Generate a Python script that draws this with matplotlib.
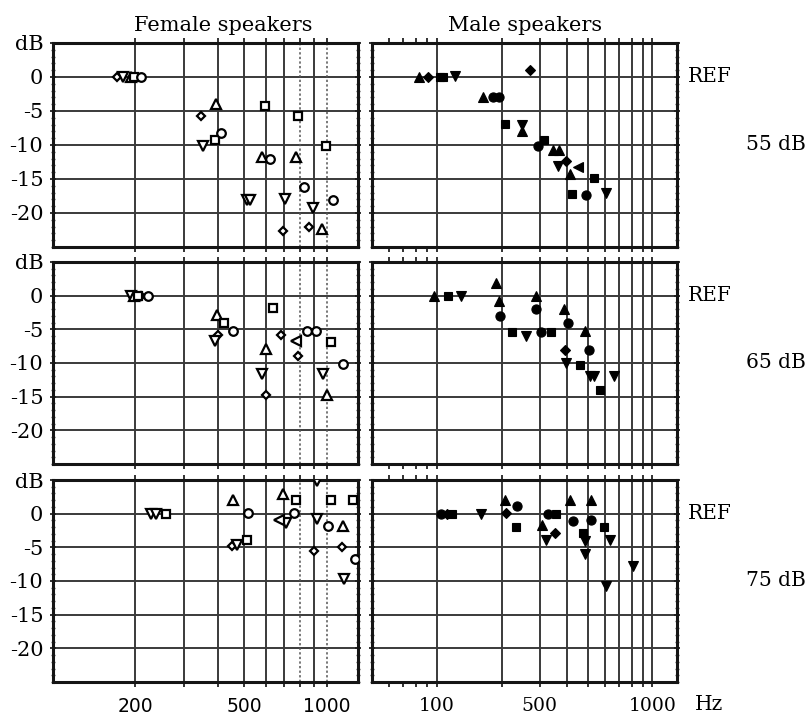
import numpy as np
import matplotlib
matplotlib.use("Agg")
import matplotlib.pyplot as plt
from matplotlib.ticker import FixedLocator, NullFormatter

# ---------------------------------------------------------------
# Relative level (dB re. REF) of spectral peaks versus frequency.
# Marker codes: '^' up triangle, 'v' down triangle, 'o' circle,
# 's' square, 'D' diamond, '<' left triangle
# ---------------------------------------------------------------

# Female speakers, 55 dB
F55_HZ = [172, 180, 192, 197, 210, 395, 346, 412, 389, 352, 594, 786, 993,
          578, 622, 775, 824, 510, 525, 706, 1050, 892, 693, 862, 962]
F55_DB = [0, 0, 0, 0, 0, -3.9, -5.7, -8.2, -9.3, -10.1, -4.2, -5.8, -10.1,
          -11.7, -12.1, -11.8, -16.2, -18.1, -18.1, -17.9, -18.1, -19.3,
          -22.6, -22.1, -22.3]
F55_MK = ['D', 'v', '^', 's', 'o', '^', 'D', 'o', 's', 'v', 's', 's', 's',
          '^', 'o', '^', 'o', 'v', 'v', 'v', 'o', 'v', 'D', 'D', '^']

# Female speakers, 65 dB
F65_HZ = [193, 197, 205, 210, 222, 398, 421, 455, 400, 390, 634, 602, 683,
          770, 847, 917, 787, 1035, 1148, 578, 598, 965, 1000]
F65_DB = [0, 0, 0, 0, 0, -2.9, -4.1, -5.3, -5.8, -6.8, -1.9, -7.9, -5.8,
          -6.8, -5.2, -5.2, -9.0, -6.9, -10.2, -11.7, -14.8, -11.7, -14.8]
F65_MK = ['v', '^', 's', 'D', 'o', '^', 's', 'o', 'D', 'v', 's', '^', 'D',
          '<', 'o', 'o', 'D', 's', 'o', 'v', 'D', 'v', '^']

# Female speakers, 75 dB
F75_HZ = [228, 238, 259, 455, 516, 452, 469, 512, 693, 770, 758, 671, 712,
          918, 922, 1010, 1143, 1035, 1246, 899, 1139, 1265, 1153]
F75_DB = [0, 0, 0, 2.1, 0.1, -4.8, -4.6, -3.9, 2.9, 2.1, 0.1, -1.0, -1.4,
          4.9, -0.8, -1.9, -1.9, 2.1, 2.1, -5.6, -4.9, -6.8, -9.7]
F75_MK = ['v', 'v', 's', '^', 'o', 'D', 'v', 's', '^', 's', 'o', '<', 'v',
          'v', 'v', 'o', '^', 's', 's', 'D', 'D', 'o', 'v']

# Male speakers, 55 dB
M55_HZ = [83, 91, 103, 107, 121, 270, 164, 182, 194, 206, 247, 247, 313,
          294, 345, 367, 364, 398, 451, 416, 538, 423, 494, 610]
M55_DB = [0, 0, 0, 0, 0.2, 1.0, -3.0, -3.0, -3.0, -6.9, -7.1, -8.0, -9.2,
          -10.2, -10.8, -10.8, -13.1, -12.3, -13.2, -14.3, -14.8, -17.2,
          -17.4, -17.0]
M55_MK = ['^', 'D', 's', 's', 'v', 'D', '^', 'o', 'o', 's', 'v', '^', 's',
          'o', '^', '^', 'v', 'D', '<', '^', 's', 's', 'o', 'v']

# Male speakers, 65 dB
M65_HZ = [97, 113, 130, 188, 194, 196, 222, 258, 287, 289, 305, 339, 387,
          407, 489, 393, 506, 398, 459, 511, 538, 569, 660]
M65_DB = [0, 0, 0, 1.9, -0.8, -3.0, -5.4, -6.0, 0, -2.0, -5.4, -5.4, -2.0,
          -4.0, -5.2, -8.0, -8.0, -10.0, -10.3, -12.0, -12.0, -14.0, -12.0]
M65_MK = ['^', 's', 'v', '^', '^', 'o', 's', 'v', '^', 'o', 'o', 's', '^',
          'o', '^', 'D', 'o', 'v', 's', 'v', 'v', 's', 'v']

# Male speakers, 75 dB
M75_HZ = [105, 112, 117, 161, 206, 235, 209, 234, 328, 358, 309, 355, 322,
          413, 520, 426, 520, 599, 475, 484, 636, 487, 809, 610]
M75_DB = [0, 0, 0, 0, 2.1, 1.1, 0.1, -2.0, 0, 0, -1.7, -2.8, -3.9, 2.1, 2.1,
          -1.1, -0.9, -2.0, -2.9, -4.1, -3.9, -6.0, -7.8, -10.8]
M75_MK = ['o', 'D', 's', 'v', '^', 'o', 'D', 's', 'o', 's', '^', 'D', 'v',
          '^', '^', 'o', 'o', 's', 's', 'v', 'v', 'v', 'v', 'v']

LEVELS = ['55 dB', '65 dB', '75 dB']
COLUMN_TITLES = ['Female speakers', 'Male speakers']

Y_TICKS = [5, 0, -5, -10, -15, -20]
Y_TICK_LABELS = ['dB', '0', '-5', '-10', '-15', '-20']

F_GRID = [200, 300, 400, 500, 600, 700, 800, 900, 1000]
F_DOTTED = [800, 1000]
F_TICK_LABELS = {200: '200', 500: '500', 1000: '1000'}

M_GRID = [100, 200, 300, 400, 500, 600, 700, 800, 900, 1000]
M_MINOR = [60, 70, 80, 90]
M_TICK_LABELS = {100: '100', 300: '500', 1000: '1000'}

# ---------------------------------------------------------------
W, H = 808, 714
fig = plt.figure(figsize=(W / 100, H / 100), dpi=100)
fig.patch.set_facecolor('white')

SERIF = 'DejaVu Serif'
SANS = 'DejaVu Sans'
GRID_C = '#3a3a3a'


def box(l, t, r, b):
    return [l / W, 1 - b / H, (r - l) / W, (b - t) / H]


cols = [(53, 358), (372, 677)]
rows = [(43, 247), (262, 464), (480, 682)]

panels = [
    [(F55_HZ, F55_DB, F55_MK), (M55_HZ, M55_DB, M55_MK)],
    [(F65_HZ, F65_DB, F65_MK), (M65_HZ, M65_DB, M65_MK)],
    [(F75_HZ, F75_DB, F75_MK), (M75_HZ, M75_DB, M75_MK)],
]

SIZES_F = {'s': 5.8, 'o': 6.2, '^': 7.0, 'v': 7.0, 'D': 4.2, '<': 6.5}
SIZES_M = {'s': 6.2, 'o': 6.6, '^': 7.5, 'v': 7.5, 'D': 4.6, '<': 7.0}

for r, (top, bot) in enumerate(rows):
    for c, (left, right) in enumerate(cols):
        ax = fig.add_axes(box(left, top, right, bot))
        ax.set_xscale('log')
        female = (c == 0)
        ax.set_xlim(100 if female else 50, 1300)
        ax.set_ylim(-25, 5)

        # grid
        for y in [0, -5, -10, -15, -20]:
            ax.axhline(y, color=GRID_C, lw=1.4, zorder=1)
        grid = F_GRID if female else M_GRID
        for x in grid:
            if female and x in F_DOTTED:
                ax.axvline(x, color='#555555', lw=1.1, ls=(0, (1.5, 1.5)), zorder=1)
            else:
                ax.axvline(x, color=GRID_C, lw=1.4, zorder=1)

        # data points
        hz, db, mk = (np.asarray(v) for v in panels[r][c])
        for m in ['D', 'v', '^', 's', 'o', '<']:
            sel = mk == m
            if not sel.any():
                continue
            if female:
                ax.plot(hz[sel], db[sel], ls='none', marker=m,
                        ms=SIZES_F[m], mfc='white', mec='black', mew=1.6,
                        zorder=3)
            else:
                ax.plot(hz[sel], db[sel], ls='none', marker=m,
                        ms=SIZES_M[m], mfc='black', mec='black', mew=0.8,
                        zorder=3)

        # frame
        for sp in ax.spines.values():
            sp.set_linewidth(2.2)
            sp.set_color('#151515')

        # x ticks
        ax.xaxis.set_major_locator(FixedLocator(grid))
        if female:
            ax.xaxis.set_minor_locator(FixedLocator([]))
        else:
            ax.xaxis.set_minor_locator(FixedLocator(M_MINOR))
        ax.xaxis.set_minor_formatter(NullFormatter())
        ax.tick_params(axis='x', which='both', top=True, bottom=True,
                       direction='out', length=3.5, width=1.3, color='#222222')
        if r == 2:
            labels = F_TICK_LABELS if female else M_TICK_LABELS
            ax.set_xticklabels([labels.get(x, '') for x in grid])
            for t in ax.get_xticklabels():
                t.set_fontfamily(SANS if female else SERIF)
                t.set_fontsize(13.5)
            ax.tick_params(axis='x', pad=7)
        else:
            ax.set_xticklabels([''] * len(grid))

        # y ticks
        ax.yaxis.set_major_locator(FixedLocator(Y_TICKS))
        ax.yaxis.set_minor_locator(FixedLocator(np.arange(-25, 6, 1)))
        ax.yaxis.set_minor_formatter(NullFormatter())
        ax.tick_params(axis='y', which='major', left=True, right=True,
                       direction='inout', length=4, width=1.3, color='#222222')
        ax.tick_params(axis='y', which='minor', left=True, right=True,
                       direction='inout', length=3, width=1.0, color='#555555')
        if female:
            ax.set_yticklabels(Y_TICK_LABELS, fontfamily=SERIF, fontsize=15)
            ax.tick_params(axis='y', pad=5)
        else:
            ax.set_yticklabels([''] * len(Y_TICKS))

    # level annotations at the right
    y0 = top + 5 * (bot - top) / 30.0
    y10 = top + 15 * (bot - top) / 30.0
    fig.text(688 / W, 1 - y0 / H, 'REF', ha='left', va='center',
             family=SERIF, fontsize=14.5)
    fig.text(806 / W, 1 - y10 / H, LEVELS[r], ha='right', va='center',
             family=SERIF, fontsize=14.5)

fig.text(223 / W, 1 - 31 / H, COLUMN_TITLES[0], ha='center', va='baseline',
         family=SERIF, fontsize=15)
fig.text(525 / W, 1 - 31 / H, COLUMN_TITLES[1], ha='center', va='baseline',
         family=SERIF, fontsize=15)
fig.text(709 / W, 1 - 704 / H, 'Hz', ha='center', va='center',
         family=SERIF, fontsize=14.5)

fig.savefig('out.png', dpi=100, facecolor='white')
